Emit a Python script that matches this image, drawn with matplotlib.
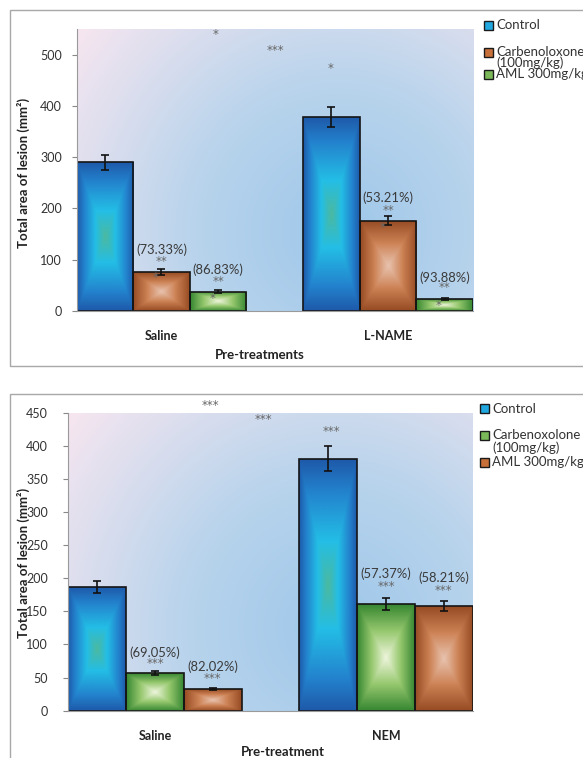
import numpy as np
import matplotlib
matplotlib.use("Agg")
import matplotlib.pyplot as plt
from matplotlib.colors import LinearSegmentedColormap
from matplotlib.patches import Rectangle

plt.rcParams['font.family'] = ['Lato', 'DejaVu Sans']

W, H = 583, 758

# ---- data ----
groups_top = ["Saline", "L-NAME"]
series_top = ["Control", "Carbenoloxone\n(100mg/kg)", "AML 300mg/kg"]
vals_top = [[290, 378], [76, 176], [38, 23]]
errs_top = [[15, 19], [5, 9], [2, 2]]
styles_top = ["blue", "brown", "green"]

groups_bot = ["Saline", "NEM"]
series_bot = ["Control", "Carbenoxolone\n(100mg/kg)", "AML 300mg/kg"]
vals_bot = [[186, 380], [57, 161], [33, 158]]
errs_bot = [[9, 19], [3, 9], [1.5, 8]]
styles_bot = ["blue", "green", "brown"]

# (x in category units, y in mm2, text)
notes_top = [
    (0.0, 120, "(73.33%)"), (0.0, 97, "**"), (-0.024, 66, "*"),
    (0.25, 80, "(86.83%)"), (0.25, 58, "**"), (0.227, 25, "*"),
    (0.241, 539, "*"), (0.503, 508, "***"), (0.745, 473, "*"),
    (1.0, 220, "(53.21%)"), (1.0, 196, "**"), (0.978, 162, "*"),
    (1.25, 65, "(93.88%)"), (1.25, 45, "**"), (1.225, 10, "*"),
]
notes_bot = [
    (0.238, 461, "***"), (0.468, 440, "***"), (0.765, 422, "***"),
    (0.0, 88, "(69.05%)"), (0.0, 70.6, "***"),
    (0.25, 66.6, "(82.02%)"), (0.25, 49, "***"),
    (1.0, 206, "(57.37%)"), (1.0, 187, "***"),
    (1.25, 200, "(58.21%)"), (1.25, 181, "***"),
]

# bar gradients: centre -> edge
grad = {
    "blue": [(0.0, (75, 185, 160)), (0.35, (35, 190, 230)), (0.75, (35, 130, 205)), (1.0, (30, 90, 170))],
    "brown": [(0.0, (232, 195, 175)), (0.5, (205, 130, 85)), (1.0, (150, 75, 35))],
    "green": [(0.0, (238, 245, 220)), (0.5, (150, 200, 110)), (1.0, (55, 135, 50))],
}
legend_col = {"blue": "#22a8e0", "brown": "#c8703a", "green": "#7ab85a"}
cmaps = {k: LinearSegmentedColormap.from_list(k, [(p, np.array(c) / 255) for p, c in v]) for k, v in grad.items()}
bg_cmap = LinearSegmentedColormap.from_list("bg", [
    (0.0, (158/255, 199/255, 234/255)), (0.45, (185/255, 212/255, 236/255)), (1.0, (247/255, 230/255, 240/255))])


def px_rect(l, t, r, b):
    return [l / W, 1 - b / H, (r - l) / W, (b - t) / H]


def background(ax, aw, ah):
    ny, nx = 200, 200
    xx, yy = np.meshgrid(np.linspace(0, 1, nx), np.linspace(0, 1, ny))
    r = np.sqrt(((xx - 0.66) * aw) ** 2 + ((yy - 0.28) * ah) ** 2)
    r = r / np.sqrt((0.66 * aw) ** 2 + (0.72 * ah) ** 2)
    ax.imshow(np.clip(r, 0, 1), cmap=bg_cmap, vmin=0, vmax=1, extent=(0, 1, 0, 1),
              transform=ax.transAxes, origin="lower", aspect="auto", zorder=0,
              interpolation="bilinear")


def gradient_bars(ax, bars, style):
    u = np.linspace(-1, 1, 120)
    uu, vv = np.meshgrid(u, u)
    t = np.maximum(np.abs(uu), np.abs(vv))
    for b in bars:
        x, y = b.get_x(), b.get_y()
        w, h = b.get_width(), b.get_height()
        im = ax.imshow(t, cmap=cmaps[style], vmin=0, vmax=1, extent=(x, x + w, y, y + h),
                       aspect="auto", zorder=2, interpolation="bilinear", origin="lower")
        im.set_clip_path(b)


def panel(rect, groups, series, vals, errs, styles, notes, ymax, ystep, tickpad,
          xlab, xlab_pos, ylab_pos, aw, ah):
    ax = fig.add_axes(rect)
    background(ax, aw, ah)
    x = np.arange(len(groups))
    bw = 0.25
    for i, s in enumerate(series):
        pos = x + (i - 1) * bw
        bars = ax.bar(pos, vals[i], bw, facecolor="none", edgecolor="#151515", lw=1.2, zorder=3)
        gradient_bars(ax, bars, styles[i])
        ax.errorbar(pos, vals[i], yerr=errs[i], fmt="none", ecolor="#111111", elinewidth=1.2,
                    capsize=3, capthick=1.2, zorder=4)
    for nx, ny, txt in notes:
        if txt.startswith("("):
            ax.text(nx, ny, txt, ha="center", va="center", fontsize=9.4, color="#3a3a3a", zorder=5)
        else:
            ax.text(nx, ny, txt, ha="center", va="center", fontsize=8.5, color="#666666",
                    family=["DejaVu Sans"], zorder=5)
    ax.set_xlim(-0.375, 1.375)
    ax.set_ylim(0, ymax)
    ax.set_yticks(np.arange(0, ymax + 1, ystep))
    ax.set_xticks(x)
    ax.set_xticklabels(groups, fontsize=9, fontweight="bold", color="#222222")
    ax.tick_params(axis="x", length=0, pad=14)
    ax.tick_params(axis="y", length=3.5, width=0.8, color="#888888", pad=tickpad,
                   labelsize=9, labelcolor="#333333")
    for sp in ["top", "right"]:
        ax.spines[sp].set_visible(False)
    for sp in ["left", "bottom"]:
        ax.spines[sp].set_color("#9a9a9a")
        ax.spines[sp].set_linewidth(0.8)
        ax.spines[sp].set_zorder(6)
    ax.set_xlabel(xlab, fontsize=9.5, fontweight="bold", color="#222222")
    ax.xaxis.set_label_coords(*xlab_pos)
    ax.set_ylabel("Total area of lesion (mm²)", fontsize=9.5, fontweight="bold", color="#222222")
    ax.yaxis.set_label_coords(*ylab_pos)
    return ax


def legend(styles, x_sq, x_txt, ys):
    # ys: list of (y centre of square, [text lines with y])
    for (ysq, lines), st in zip(ys, styles):
        fig.add_artist(Rectangle(((x_sq - 4.5) / W, 1 - (ysq + 4.5) / H), 9 / W, 9 / H,
                                 transform=fig.transFigure, facecolor=legend_col[st],
                                 edgecolor="#1a1a1a", lw=1.0))
        for txt, yl in lines:
            fig.text(x_txt / W, 1 - yl / H, txt, ha="left", va="center", fontsize=9.5, color="#333333")


fig = plt.figure(figsize=(W / 100, H / 100), dpi=100)
fig.patch.set_facecolor("white")

# outer frames
fig.add_artist(Rectangle((9.5 / W, 1 - 366 / H), 600 / W, 356 / H, transform=fig.transFigure,
                         facecolor="none", edgecolor="#a8a8a8", lw=1.0))
fig.add_artist(Rectangle((10 / W, -10 / H), 600 / W, (758 - 394 + 10) / H, transform=fig.transFigure,
                         facecolor="none", edgecolor="#a8a8a8", lw=1.0))

panel(px_rect(76.5, 29, 473, 311), groups_top, series_top, vals_top, errs_top, styles_top,
      notes_top, 550, 100, 7, "Pre-treatments", (0.463, -0.136), (-0.118, 0.49), 396.5, 282)
panel(px_rect(68.3, 412.5, 472.7, 710.7), groups_bot, series_bot, vals_bot, errs_bot, styles_bot,
      notes_bot, 450, 50, 11, "Pre-treatment", (0.53, -0.117), (-0.094, 0.496), 404.4, 298)

legend(styles_top, 488, 496,
       [(25, [("Control", 25)]),
        (52, [("Carbenoloxone", 52), ("(100mg/kg)", 63)]),
        (74, [("AML 300mg/kg", 74)])])
legend(styles_bot, 484, 492,
       [(409, [("Control", 409)]),
        (435, [("Carbenoxolone", 435), ("(100mg/kg)", 448)]),
        (462, [("AML 300mg/kg", 462)])])

fig.savefig("out.png", dpi=100)
